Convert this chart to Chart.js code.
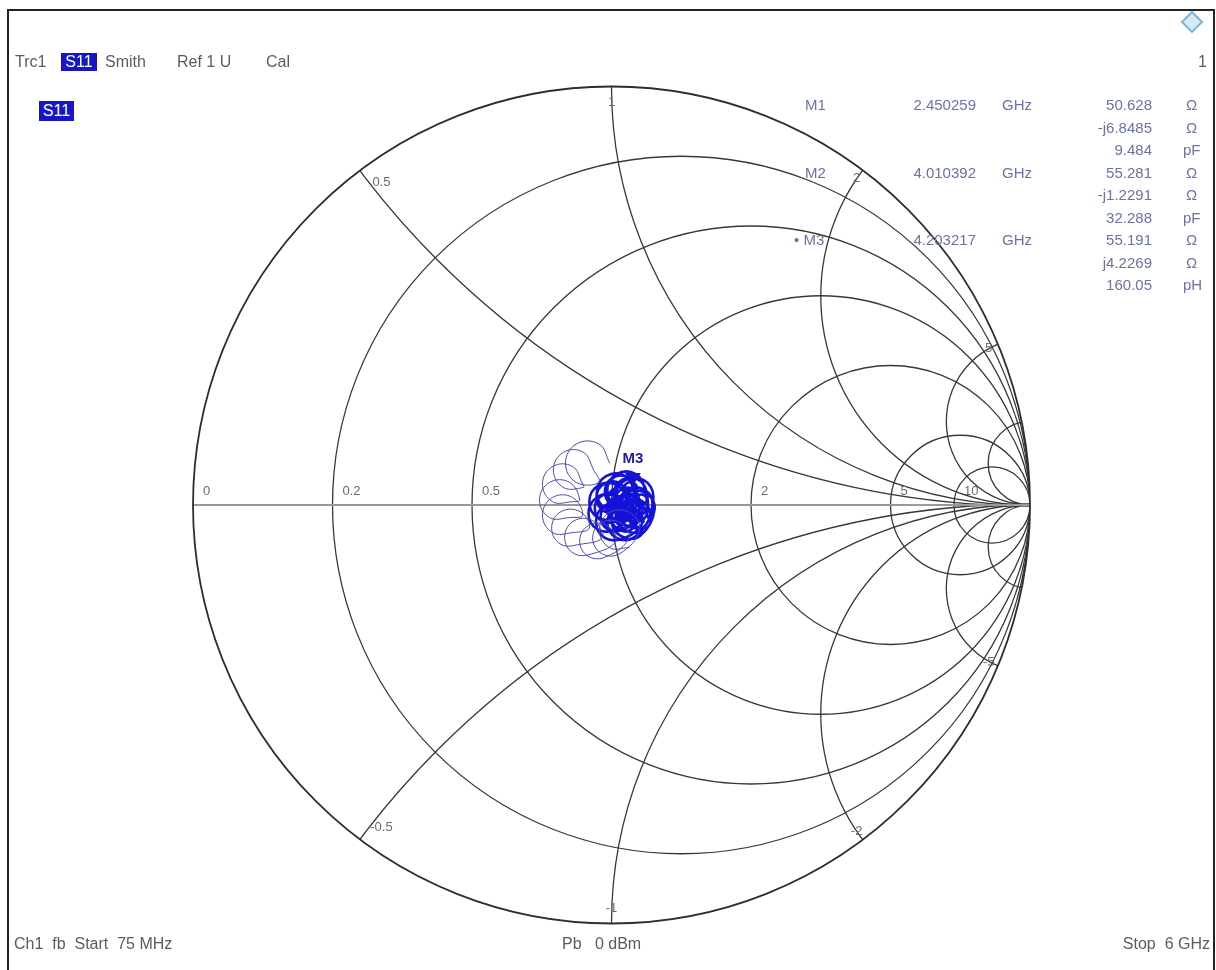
<!DOCTYPE html>
<html lang="en">
<head>
    <meta charset="UTF-8">
    <title>Trc1 S11 Smith</title>
    <script src="https://cdn.jsdelivr.net/npm/chart.js@4.4.1/dist/chart.umd.min.js"></script>
    <style>
        html, body { margin: 0; padding: 0; background: #fff; overflow: hidden; }
        .screen { position: relative; width: 1216px; height: 970px; font-family: "Liberation Sans", Arial, sans-serif; }
        .frame { position: absolute; left: 7px; top: 9px; width: 1204px; height: 970px; border: 2px solid #222; border-bottom: none; }
        .txt { position: absolute; font-size: 16px; line-height: 18px; color: #5c5c5c; white-space: pre; }
        .hl { position: absolute; background: #1616c8; color: #fff; font-size: 16px; line-height: 18px; text-align: center; }
        .mk { position: absolute; font-size: 15px; line-height: 18px; color: #6a72a6; white-space: pre; }
        .right { text-align: right; }
        .icon { position: absolute; left: 1184px; top: 14px; width: 12px; height: 12px; border: 2px solid #7fb3d9; background: #d6ebf7; transform: rotate(45deg); }
        canvas { position: absolute; left: 0; top: 0; }
    </style>
</head>
<body>
<div class="screen" id="screen">
    <canvas id="smithChart" width="1216" height="970"></canvas>
    <div class="frame"></div>
    <div class="icon"></div>
</div>

<script>
    // Smith grid: constant resistance circles and reactance arcs (normalised)
    const gridR = [0.2, 0.5, 1, 2, 5, 10];
    const gridX = [0.5, 1, 2, 5, 10, -0.5, -1, -2, -5, -10];
    const rLabels = [0, 0.2, 0.5, 2, 5, 10];
    const xLabels = [0.5, 1, 2, 5, -0.5, -1, -2, -5];

    // S11 trace (reflection coefficient), first part: outer loops
    const loopRe = [
        -0.004, -0.030, -0.084, -0.110, -0.084, -0.030,
        -0.043, -0.067, -0.115, -0.139, -0.115, -0.067,
        -0.069, -0.093, -0.141, -0.165, -0.141, -0.093,
        -0.076, -0.100, -0.148, -0.172, -0.148, -0.100,
        -0.069, -0.093, -0.141, -0.165, -0.141, -0.093,
        -0.053, -0.075, -0.121, -0.143, -0.121, -0.075,
        -0.022, -0.044, -0.090, -0.112, -0.090, -0.044,
        0.010, -0.011, -0.055, -0.076, -0.055, -0.011,
        0.041, 0.020, -0.024, -0.045, -0.024, 0.020,
        0.067, 0.043, -0.005, -0.029, -0.005, 0.043
    ];
    const loopIm = [
        0.100, 0.146, 0.146, 0.100, 0.054, 0.054,
        0.084, 0.126, 0.126, 0.084, 0.042, 0.042,
        0.050, 0.092, 0.092, 0.050, 0.008, 0.008,
        0.012, 0.054, 0.054, 0.012, -0.030, -0.030,
        -0.024, 0.018, 0.018, -0.024, -0.066, -0.066,
        -0.055, -0.016, -0.016, -0.055, -0.094, -0.094,
        -0.077, -0.038, -0.038, -0.077, -0.116, -0.116,
        -0.086, -0.049, -0.049, -0.086, -0.123, -0.123,
        -0.079, -0.042, -0.042, -0.079, -0.116, -0.116,
        -0.060, -0.018, -0.018, -0.060, -0.102, -0.102
    ];
    // second part: dense cluster near the centre
    const blobRe = [
        0.090, 0.068, 0.022, 0.000, 0.022, 0.068,
        0.103, 0.081, 0.035, 0.013, 0.035, 0.081,
        0.100, 0.078, 0.032, 0.010, 0.032, 0.078,
        0.080, 0.058, 0.012, -0.010, 0.012, 0.058,
        0.055, 0.033, -0.013, -0.035, -0.013, 0.033,
        0.037, 0.015, -0.031, -0.053, -0.031, 0.015,
        0.035, 0.013, -0.033, -0.055, -0.033, 0.013,
        0.053, 0.031, -0.015, -0.037, -0.015, 0.031,
        0.074, 0.053, 0.011, -0.010, 0.011, 0.053,
        0.092, 0.072, 0.032, 0.012, 0.032, 0.072,
        0.098, 0.078, 0.038, 0.018, 0.038, 0.078,
        0.085, 0.065, 0.025, 0.005, 0.025, 0.065,
        0.060, 0.041, 0.003, -0.016, 0.003, 0.041,
        0.040, 0.021, -0.017, -0.036, -0.017, 0.021,
        0.032, 0.014, -0.022, -0.040, -0.022, 0.014,
        0.046, 0.028, -0.008, -0.026, -0.008, 0.028,
        0.064, 0.048, 0.016, 0.000, 0.016, 0.048,
        0.075, 0.060, 0.030, 0.015, 0.030, 0.060,
        0.066, 0.052, 0.024, 0.010, 0.024, 0.052,
        0.044, 0.031, 0.005, -0.008, 0.005, 0.031,
        0.036, 0.024, 0.000, -0.012, 0.000, 0.024,
        0.048, 0.038, 0.018, 0.008, 0.018, 0.038,
        0.045, 0.038, 0.023, 0.015, 0.023, 0.038,
        0.025, 0.018, 0.003, -0.005, 0.003, 0.018,
        0.040, 0.033, 0.018, 0.010, 0.018, 0.033,
        0.060, 0.053, 0.038, 0.030, 0.038, 0.053,
        -0.005, -0.012, -0.027, -0.035, -0.027, -0.012,
        0.075, 0.068, 0.053, 0.045, 0.053, 0.068,
        0.015, 0.008, -0.007, -0.015, -0.007, 0.008,
        0.085, 0.078, 0.063, 0.055, 0.063, 0.078
    ];
    const blobIm = [
        -0.035, 0.004, 0.004, -0.035, -0.074, -0.074,
        -0.010, 0.029, 0.029, -0.010, -0.049, -0.049,
        0.020, 0.059, 0.059, 0.020, -0.019, -0.019,
        0.035, 0.074, 0.074, 0.035, -0.004, -0.004,
        0.030, 0.069, 0.069, 0.030, -0.009, -0.009,
        0.008, 0.047, 0.047, 0.008, -0.031, -0.031,
        -0.020, 0.019, 0.019, -0.020, -0.059, -0.059,
        -0.040, -0.001, -0.001, -0.040, -0.079, -0.079,
        -0.042, -0.006, -0.006, -0.042, -0.078, -0.078,
        -0.025, 0.010, 0.010, -0.025, -0.060, -0.060,
        0.002, 0.037, 0.037, 0.002, -0.033, -0.033,
        0.025, 0.060, 0.060, 0.025, -0.010, -0.010,
        0.032, 0.065, 0.065, 0.032, -0.001, -0.001,
        0.018, 0.051, 0.051, 0.018, -0.015, -0.015,
        -0.008, 0.023, 0.023, -0.008, -0.039, -0.039,
        -0.028, 0.003, 0.003, -0.028, -0.059, -0.059,
        -0.030, -0.002, -0.002, -0.030, -0.058, -0.058,
        -0.008, 0.018, 0.018, -0.008, -0.034, -0.034,
        0.014, 0.038, 0.038, 0.014, -0.010, -0.010,
        0.015, 0.038, 0.038, 0.015, -0.008, -0.008,
        -0.008, 0.013, 0.013, -0.008, -0.029, -0.029,
        -0.012, 0.005, 0.005, -0.012, -0.029, -0.029,
        0.010, 0.023, 0.023, 0.010, -0.003, -0.003,
        0.000, 0.013, 0.013, 0.000, -0.013, -0.013,
        -0.025, -0.012, -0.012, -0.025, -0.038, -0.038,
        0.040, 0.053, 0.053, 0.040, 0.027, 0.027,
        0.010, 0.023, 0.023, 0.010, -0.003, -0.003,
        -0.040, -0.027, -0.027, -0.040, -0.053, -0.053,
        -0.045, -0.032, -0.032, -0.045, -0.058, -0.058,
        0.010, 0.023, 0.023, 0.010, -0.003, -0.003
    ];

    // markers
    const markerNames = ['M1', 'M2', 'M3'];
    const markerFreqs = ['2.450259', '4.010392', '4.203217'];
    const markerR = [50.628, 55.281, 55.191];
    const markerX = [-6.8485, -1.2291, 4.2269];
    const markerRText = ['50.628', '55.281', '55.191'];
    const markerXText = ['-j6.8485', '-j1.2291', 'j4.2269'];
    const markerLC = ['9.484', '32.288', '160.05'];
    const markerLCUnit = ['pF', 'pF', 'pH'];
    const activeMarker = 2;
    const z0 = 50;

    // header / footer texts
    const headerItems = [['Trc1', 15], ['Smith', 105], ['Ref 1 U', 177], ['Cal', 266]];
    const footerLeft = 'Ch1  fb  Start  75 MHz';
    const footerMid = 'Pb   0 dBm';
    const footerRight = 'Stop  6 GHz';

    // ---- text overlays ----
    const screen = document.getElementById('screen');
    function addText(cls, text, left, centerY, extra) {
        const d = document.createElement('div');
        d.className = cls;
        d.textContent = text;
        d.style.left = left + 'px';
        d.style.top = (centerY - 9) + 'px';
        if (extra) Object.assign(d.style, extra);
        screen.appendChild(d);
        return d;
    }
    headerItems.forEach(([t, x]) => addText('txt', t, x, 62));
    addText('hl', 'S11', 61, 62, { width: '36px' });
    addText('hl', 'S11', 39, 111, { width: '35px', height: '20px', lineHeight: '20px', top: '101px' });
    addText('txt', '1', 1198, 62);
    addText('txt', footerLeft, 14, 944);
    addText('txt', footerMid, 562, 944);
    addText('txt right', footerRight, 1060, 944, { width: '150px' });

    markerNames.forEach((m, i) => {
        const y0 = 105 + i * 67.5;
        addText('mk', (i === activeMarker ? '\u2022 ' : '') + m, i === activeMarker ? 794 : 805, y0);
        addText('mk right', markerFreqs[i], 880, y0, { width: '96px' });
        addText('mk', 'GHz', 1002, y0);
        addText('mk right', markerRText[i], 1052, y0, { width: '100px' });
        addText('mk', '\u03a9', 1186, y0);
        addText('mk right', markerXText[i], 1052, y0 + 22.5, { width: '100px' });
        addText('mk', '\u03a9', 1186, y0 + 22.5);
        addText('mk right', markerLC[i], 1052, y0 + 45, { width: '100px' });
        addText('mk', markerLCUnit[i], 1183, y0 + 45);
    });

    // ---- chart ----
    const toPoints = (re, im) => re.map((v, i) => ({ x: v, y: im[i] }));

    const smithGrid = {
        id: 'smithGrid',
        beforeDatasetsDraw(chart) {
            const { ctx, scales: { x, y } } = chart;
            const px = v => x.getPixelForValue(v);
            const py = v => y.getPixelForValue(v);
            const unit = px(1) - px(0);
            const cx = px(0), cy = py(0);

            ctx.save();
            ctx.beginPath();
            ctx.arc(cx, cy, unit, 0, Math.PI * 2);
            ctx.clip();
            ctx.strokeStyle = '#383838';
            ctx.lineWidth = 1.3;
            gridR.forEach(r => {
                ctx.beginPath();
                ctx.arc(px(r / (1 + r)), cy, unit / (1 + r), 0, Math.PI * 2);
                ctx.stroke();
            });
            gridX.forEach(xv => {
                ctx.beginPath();
                ctx.arc(px(1), py(1 / xv), unit / Math.abs(xv), 0, Math.PI * 2);
                ctx.stroke();
            });
            ctx.restore();

            // real axis
            ctx.save();
            ctx.strokeStyle = '#9a9a9a';
            ctx.lineWidth = 2;
            ctx.beginPath();
            ctx.moveTo(px(-1), cy);
            ctx.lineTo(px(1), cy);
            ctx.stroke();
            // outer circle
            ctx.strokeStyle = '#2e2e2e';
            ctx.lineWidth = 1.8;
            ctx.beginPath();
            ctx.arc(cx, cy, unit, 0, Math.PI * 2);
            ctx.stroke();

            // labels
            ctx.fillStyle = '#6a6a6a';
            ctx.font = '13px "Liberation Sans", Arial, sans-serif';
            ctx.textBaseline = 'middle';
            ctx.textAlign = 'left';
            rLabels.forEach(r => {
                ctx.fillText(String(r), px((r - 1) / (r + 1)) + 10, cy - 14);
            });
            ctx.textAlign = 'center';
            xLabels.forEach(xv => {
                const gr = (xv * xv - 1) / (xv * xv + 1);
                const gi = 2 * xv / (xv * xv + 1);
                const ex = px(gr), ey = py(gi);
                const d = Math.hypot(ex - cx, ey - cy);
                const a = Math.abs(xv);
                const inset = a > 1 ? 10 : 15;
                const shift = a < 1 ? 12 : 0;
                ctx.fillText(String(xv), ex - (ex - cx) / d * inset + shift, ey - (ey - cy) / d * inset);
            });
            ctx.restore();
        }
    };

    const markerDraw = {
        id: 'markerDraw',
        afterDatasetsDraw(chart) {
            const { ctx, scales: { x, y } } = chart;
            const i = activeMarker;
            const zr = markerR[i] / z0, zi = markerX[i] / z0;
            // gamma = (z - 1) / (z + 1)
            const den = (zr + 1) * (zr + 1) + zi * zi;
            const gr = ((zr - 1) * (zr + 1) + zi * zi) / den;
            const gi = (zi * (zr + 1) - (zr - 1) * zi) / den;
            const mx = x.getPixelForValue(gr), my = y.getPixelForValue(gi) - 3;
            ctx.save();
            ctx.fillStyle = '#1414c8';
            ctx.beginPath();
            ctx.moveTo(mx, my);
            ctx.lineTo(mx - 8, my - 13);
            ctx.lineTo(mx + 8, my - 13);
            ctx.closePath();
            ctx.fill();
            ctx.font = 'bold 15px "Liberation Sans", Arial, sans-serif';
            ctx.fillStyle = '#1c1ca8';
            ctx.textAlign = 'center';
            ctx.textBaseline = 'middle';
            ctx.fillText(markerNames[i], mx, my - 27);
            ctx.restore();
        }
    };

    new Chart(document.getElementById('smithChart').getContext('2d'), {
        type: 'scatter',
        data: {
            datasets: [
                {
                    label: 'S11 loops',
                    data: toPoints(loopRe, loopIm),
                    showLine: true,
                    borderColor: '#4a4ab0',
                    borderWidth: 1,
                    tension: 0.42,
                    pointRadius: 0
                },
                {
                    label: 'S11 cluster',
                    data: toPoints(blobRe, blobIm),
                    showLine: true,
                    borderColor: '#1212d8',
                    borderWidth: 2.6,
                    tension: 0.42,
                    pointRadius: 0
                }
            ]
        },
        options: {
            responsive: false,
            animation: false,
            devicePixelRatio: 1,
            layout: { padding: 0 },
            scales: {
                x: { type: 'linear', min: -1.4612, max: 1.4444, display: false },
                y: { type: 'linear', min: -1.1124, max: 1.2081, display: false }
            },
            plugins: {
                legend: { display: false },
                tooltip: { enabled: false }
            }
        },
        plugins: [smithGrid, markerDraw]
    });
</script>
</body>
</html>
